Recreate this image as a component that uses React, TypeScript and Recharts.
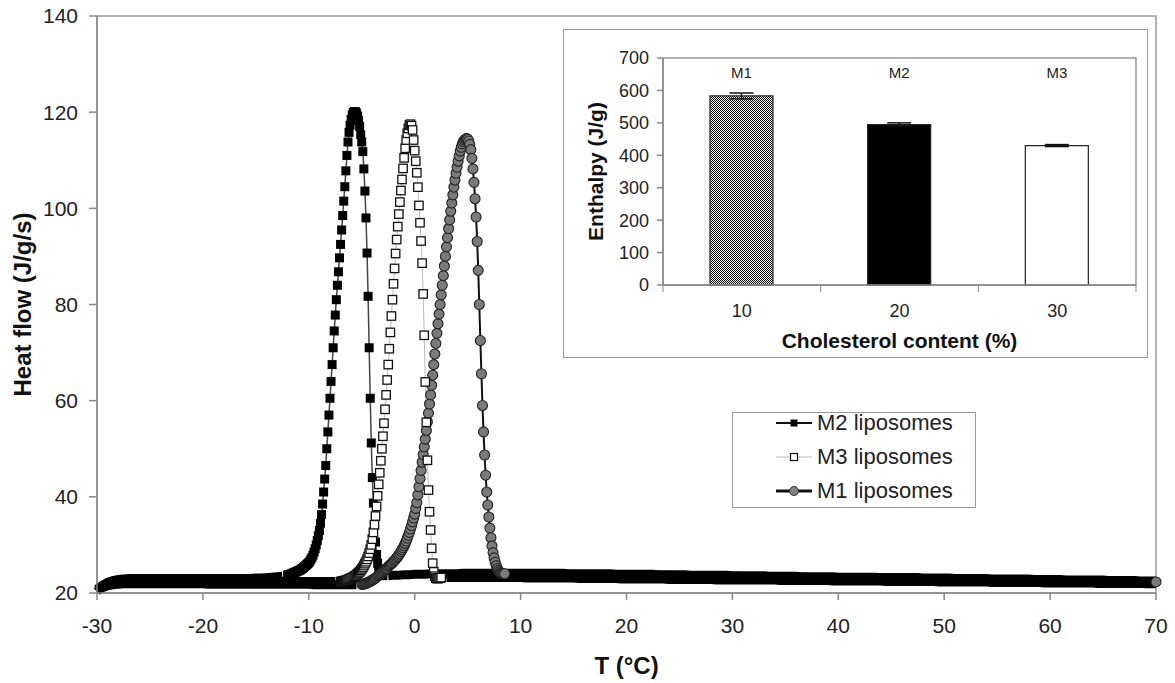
import { LineChart, Line, XAxis, YAxis, ReferenceArea, BarChart, Bar, Cell, ErrorBar, LabelList } from 'recharts';

// DSC scans of the liposomes, heat flow (J/g/s) against temperature (°C).
// Each scan is kept in three parts: baseline before the peak (0.5 °C apart),
// the peak itself (0.1 °C apart) and the baseline after it (0.5 °C apart).

const m2PreStart = -30;
const m2Pre = [
  20.3, 21.5, 22.2, 22.6, 22.8, 22.9, 23.0, 23.0, 23.0, 23.0,
  23.0, 23.0, 23.0, 23.0, 23.0, 23.0, 23.0, 23.0, 23.0, 23.0,
  23.0, 23.0, 23.0, 23.0, 23.0, 23.0, 23.0, 23.0, 23.0, 23.0,
  23.1, 23.1, 23.2, 23.3, 23.4, 23.5,
];
const m2PeakStart = -12;
const m2Peak = [
  23.7, 23.8, 23.8, 23.9, 24.0, 24.1, 24.2, 24.3, 24.4, 24.5,
  24.6, 24.7, 24.8, 25.0, 25.1, 25.3, 25.5, 25.7, 25.9, 26.1,
  26.3, 26.6, 27.0, 27.4, 27.9, 28.5, 29.2, 30.0, 30.9, 31.9,
  33.0, 34.5, 36.3, 38.5, 41.0, 43.7, 46.5, 50.0, 53.5, 57.0,
  60.5, 64.0, 67.5, 71.0, 74.5, 77.8, 81.0, 84.0, 86.8, 89.7,
  92.5, 95.5, 98.5, 101.5, 104.5, 107.8, 111.0, 113.8, 115.8, 117.3,
  118.5, 119.4, 119.9, 120.1, 120.1, 119.8, 119.2, 118.3, 117.0, 115.3,
  113.8, 111.8, 108.2, 103.6, 98.0, 90.7, 81.7, 71.0, 60.5, 51.2,
  44.0, 38.7, 34.2, 30.6, 28.0, 26.2, 25.0, 24.3, 23.9, 23.7,
  23.6,
];
const m2PostStart = -2.5;
const m2Post = [
  23.6, 23.7, 23.7, 23.8, 23.8, 23.9, 23.9, 23.9, 24.0, 24.0,
  24.0, 24.0, 24.0, 24.0, 24.1, 24.1, 24.1, 24.1, 24.1, 24.1,
  24.1, 24.1, 24.1, 24.1, 24.1, 24.1, 24.1, 24.1, 24.1, 24.1,
  24.1, 24.1, 24.1, 24.1, 24.0, 24.0, 24.0, 24.0, 24.0, 24.0,
  24.0, 24.0, 24.0, 23.9, 23.9, 23.9, 23.9, 23.9, 23.9, 23.9,
  23.9, 23.8, 23.8, 23.8, 23.8, 23.8, 23.8, 23.7, 23.7, 23.7,
  23.7, 23.7, 23.7, 23.7, 23.7, 23.6, 23.6, 23.6, 23.6, 23.6,
  23.6, 23.6, 23.5, 23.5, 23.5, 23.5, 23.5, 23.5, 23.4, 23.4,
  23.4, 23.4, 23.4, 23.4, 23.4, 23.3, 23.3, 23.3, 23.3, 23.3,
  23.3, 23.3, 23.3, 23.2, 23.2, 23.2, 23.2, 23.2, 23.2, 23.2,
  23.2, 23.1, 23.1, 23.1, 23.1, 23.1, 23.1, 23.0, 23.0, 23.0,
  23.0, 23.0, 23.0, 23.0, 22.9, 22.9, 22.9, 22.9, 22.9, 22.9,
  22.9, 22.9, 22.8, 22.8, 22.8, 22.8, 22.8, 22.8, 22.7, 22.7,
  22.7, 22.7, 22.7, 22.7, 22.7, 22.7, 22.6, 22.6, 22.6, 22.6,
  22.6, 22.6, 22.5, 22.5, 22.5, 22.5,
];

const m3PreStart = -30;
const m3Pre = [
  20.8, 21.6, 22.0, 22.2, 22.3, 22.4, 22.4, 22.4, 22.4, 22.4,
  22.4, 22.4, 22.4, 22.4, 22.4, 22.4, 22.4, 22.4, 22.4, 22.4,
  22.4, 22.4, 22.4, 22.4, 22.4, 22.4, 22.4, 22.4, 22.4, 22.4,
  22.4, 22.4, 22.4, 22.4, 22.4, 22.4, 22.4, 22.4, 22.4, 22.4,
  22.4, 22.4, 22.4, 22.4, 22.4, 22.4,
];
const m3PeakStart = -7;
const m3Peak = [
  22.4, 22.4, 22.5, 22.5, 22.6, 22.6, 22.7, 22.8, 22.9, 23.0,
  23.1, 23.2, 23.3, 23.5, 23.6, 23.8, 24.0, 24.2, 24.4, 24.7,
  25.0, 25.3, 25.7, 26.1, 26.5, 27.0, 27.6, 28.3, 29.1, 30.0,
  31.2, 32.6, 34.2, 36.0, 38.0, 40.2, 42.6, 45.0, 47.5, 50.0,
  52.6, 55.3, 58.2, 61.2, 64.3, 67.5, 70.8, 74.2, 77.6, 81.0,
  84.3, 87.5, 90.6, 93.5, 96.2, 98.8, 101.3, 103.7, 106.0, 108.3,
  110.5, 112.5, 114.2, 115.6, 116.6, 117.3, 117.5, 117.2, 116.3, 114.2,
  112.0, 109.8, 107.4, 104.4, 100.6, 97.0, 93.2, 88.6, 82.2, 73.6,
  63.9, 55.5, 47.6, 41.4, 36.9, 33.1, 29.3, 26.2, 24.4, 23.5,
  23.1, 23.0, 23.0, 23.1, 23.1, 23.2,
];
const m3PostStart = 3;
const m3Post = [
  23.2, 23.2, 23.2, 23.2, 23.2, 23.2, 23.2, 23.2, 23.2, 23.2,
  23.2, 23.2, 23.2, 23.2, 23.2, 23.1, 23.1, 23.1, 23.1, 23.1,
  23.1, 23.1, 23.1, 23.1, 23.1, 23.0, 23.0, 23.0, 23.0, 23.0,
  23.0, 23.0, 23.0, 22.9, 22.9, 22.9, 22.9, 22.9, 22.9, 22.9,
  22.9, 22.9, 22.8, 22.8, 22.8, 22.8, 22.8, 22.8, 22.8, 22.8,
  22.8, 22.7, 22.7, 22.7, 22.7, 22.7, 22.7, 22.7, 22.7, 22.7,
  22.7, 22.7, 22.7, 22.6, 22.6, 22.6, 22.6, 22.6, 22.6, 22.6,
  22.6, 22.6, 22.6, 22.5, 22.5, 22.5, 22.5, 22.5, 22.5, 22.5,
  22.5, 22.5, 22.5, 22.4, 22.4, 22.4, 22.4, 22.4, 22.4, 22.4,
  22.4, 22.4, 22.4, 22.3, 22.3, 22.3, 22.3, 22.3, 22.3, 22.3,
  22.3, 22.3, 22.3, 22.2, 22.2, 22.2, 22.2, 22.2, 22.2, 22.2,
  22.2, 22.2, 22.2, 22.1, 22.1, 22.1, 22.1, 22.1, 22.1, 22.1,
  22.1, 22.1, 22.1, 22.0, 22.0, 22.0, 22.0, 22.0, 22.0, 22.0,
  22.0, 22.0, 21.9, 21.9, 21.9,
];

const m1PreStart = -30;
const m1Pre = [
  20.5, 21.1, 21.5, 21.7, 21.8, 21.9, 21.9, 21.9, 21.9, 21.9,
  21.9, 21.9, 21.9, 21.9, 21.9, 21.9, 21.9, 21.9, 21.9, 21.9,
  21.9, 21.8, 21.8, 21.8, 21.8, 21.8, 21.8, 21.8, 21.8, 21.8,
  21.8, 21.8, 21.8, 21.8, 21.8, 21.8, 21.8, 21.8, 21.8, 21.8,
  21.8, 21.7, 21.7, 21.7, 21.7, 21.7, 21.7, 21.7, 21.7, 21.7,
];
const m1PeakStart = -5;
const m1Peak = [
  21.8, 21.8, 21.9, 21.9, 22.0, 22.1, 22.2, 22.3, 22.4, 22.6,
  22.7, 22.8, 23.0, 23.1, 23.3, 23.5, 23.6, 23.8, 24.0, 24.2,
  24.4, 24.6, 24.8, 25.0, 25.2, 25.5, 25.7, 25.9, 26.1, 26.3,
  26.6, 26.8, 27.0, 27.3, 27.6, 27.9, 28.2, 28.6, 29.0, 29.4,
  29.8, 30.3, 30.8, 31.4, 32.0, 32.6, 33.3, 34.0, 34.8, 35.6,
  36.4, 37.6, 38.8, 40.4, 42.1, 43.8, 45.5, 47.2, 48.8, 50.4,
  52.0, 53.8, 55.6, 57.4, 59.3, 61.2, 63.2, 65.3, 67.5, 69.7,
  71.9, 74.0, 76.0, 78.0, 80.0, 82.0, 84.0, 86.0, 88.0, 90.0,
  92.0, 93.9, 95.8, 97.6, 99.4, 101.1, 102.8, 104.4, 105.9, 107.3,
  108.6, 109.8, 110.9, 111.9, 112.7, 113.4, 113.9, 114.2, 114.4, 114.5,
  114.4, 114.0, 113.3, 112.2, 110.4, 108.2, 105.4, 102.0, 98.2, 93.1,
  87.1, 80.0, 72.5, 65.6, 59.0, 53.5, 48.7, 44.5, 41.0, 38.3,
  35.8, 33.5, 31.5, 29.8, 28.4, 27.3, 26.4, 25.7, 25.1, 24.7,
  24.4, 24.2, 24.1, 24.0, 24.0, 24.0,
];
const m1PostStart = 9;
const m1Post = [
  23.9, 23.9, 23.9, 23.9, 23.9, 23.9, 23.9, 23.9, 23.9, 23.9,
  23.9, 23.9, 23.9, 23.8, 23.8, 23.8, 23.8, 23.8, 23.8, 23.8,
  23.8, 23.8, 23.8, 23.7, 23.7, 23.7, 23.7, 23.7, 23.7, 23.7,
  23.7, 23.6, 23.6, 23.6, 23.6, 23.6, 23.5, 23.5, 23.5, 23.5,
  23.5, 23.5, 23.5, 23.5, 23.4, 23.4, 23.4, 23.4, 23.4, 23.4,
  23.4, 23.3, 23.3, 23.3, 23.3, 23.3, 23.3, 23.2, 23.2, 23.2,
  23.2, 23.2, 23.2, 23.2, 23.2, 23.1, 23.1, 23.1, 23.1, 23.1,
  23.1, 23.0, 23.0, 23.0, 23.0, 23.0, 23.0, 22.9, 22.9, 22.9,
  22.9, 22.9, 22.9, 22.9, 22.9, 22.8, 22.8, 22.8, 22.8, 22.8,
  22.8, 22.8, 22.8, 22.7, 22.7, 22.7, 22.7, 22.7, 22.7, 22.7,
  22.7, 22.6, 22.6, 22.6, 22.6, 22.6, 22.6, 22.5, 22.5, 22.5,
  22.5, 22.5, 22.5, 22.5, 22.4, 22.4, 22.4, 22.4, 22.4, 22.4,
  22.4, 22.3, 22.3,
];

const xTicks = [-30, -20, -10, 0, 10, 20, 30, 40, 50, 60, 70];
const yTicks = [20, 40, 60, 80, 100, 120, 140];

// inset: enthalpy per formulation
const cholesterol = ['10', '20', '30'];
const formulations = ['M1', 'M2', 'M3'];
const enthalpy = [583, 495, 430];
const enthalpyErr = [9, 5, 3];
const enthalpyTicks = [0, 100, 200, 300, 400, 500, 600, 700];

function toPoints(start: number, step: number, values: number[]) {
  return values.map((v, i) => ({ t: Math.round((start + i * step) * 10) / 10, v }));
}

const m2PreData = toPoints(m2PreStart, 0.5, m2Pre);
const m2PeakData = toPoints(m2PeakStart, 0.1, m2Peak);
const m2PostData = toPoints(m2PostStart, 0.5, m2Post);
const m3PreData = toPoints(m3PreStart, 0.5, m3Pre);
const m3PeakData = toPoints(m3PeakStart, 0.1, m3Peak);
const m3PostData = toPoints(m3PostStart, 0.5, m3Post);
const m1PreData = toPoints(m1PreStart, 0.5, m1Pre);
const m1PeakData = toPoints(m1PeakStart, 0.1, m1Peak);
const m1PostData = toPoints(m1PostStart, 0.5, m1Post);

const barData = cholesterol.map((c, i) => ({
  cat: c,
  name: formulations[i],
  value: enthalpy[i],
  err: enthalpyErr[i],
}));

const FONT = '"Liberation Sans", Arial, Helvetica, sans-serif';
const barFills = ['url(#m1Dots)', '#000', '#fff'];

const m2Dot = (p: any) => (
  <rect key={`m2-${p.index}`} x={p.cx - 4.5} y={p.cy - 4.5} width={9} height={9} fill="#000" />
);
const m3Dot = (p: any) => (
  <rect key={`m3-${p.index}`} x={p.cx - 4.2} y={p.cy - 4.2} width={8.4} height={8.4} fill="#fff" stroke="#111" strokeWidth={1.3} />
);
const m1Dot = (p: any) => (
  <circle key={`m1-${p.index}`} cx={p.cx} cy={p.cy} r={5} fill="#7a7a7a" stroke="#222" strokeWidth={1.1} />
);
// only the last reading of the M1 baseline shows as a marker at the right edge
const m1EndDot = (p: any) =>
  p.index === m1Post.length - 1 ? (
    <circle key="m1-end" cx={p.cx} cy={p.cy} r={5} fill="#7a7a7a" stroke="#222" strokeWidth={1.1} />
  ) : (
    <g key={`m1e-${p.index}`} />
  );

const INSET_W = 583;
const INSET_H = 327;
const INSET_YAXIS_W = 99;
const insetMargin = { top: 28, right: 11, bottom: 0, left: 0 };
const bandW = (INSET_W - insetMargin.right - INSET_YAXIS_W) / cholesterol.length;

function InsetTick(props: any) {
  const { x, y, payload, index } = props;
  const axisY = y - 19;
  return (
    <g>
      <line x1={x - bandW / 2} x2={x - bandW / 2} y1={axisY} y2={axisY + 7} stroke="#888" />
      {index === cholesterol.length - 1 && (
        <line x1={x + bandW / 2} x2={x + bandW / 2} y1={axisY} y2={axisY + 7} stroke="#888" />
      )}
      <text x={x} y={y} dy="0.71em" textAnchor="middle" fontSize={18} fill="#222">
        {payload.value}
      </text>
    </g>
  );
}

// formulation names sit at the same height (about 655 J/g) above every bar
const renderName = (props: any) => {
  const { x, y, width, height, value, index } = props;
  const perUnit = height / enthalpy[index];
  const ly = y + height - 655 * perUnit;
  return (
    <text key={`n-${index}`} x={x + width / 2} y={ly} textAnchor="middle" dominantBaseline="central" fontSize={15} fill="#222">
      {value}
    </text>
  );
};

function LegendRow({ top, label, children }: { top: number; label: string; children: any }) {
  return (
    <div style={{ position: 'absolute', left: 0, top, height: 24, width: '100%' }}>
      <svg width={36} height={24} style={{ position: 'absolute', left: 43, top: 0 }}>
        {children}
      </svg>
      <span style={{ position: 'absolute', left: 84, top: 0, lineHeight: '24px', fontSize: 22, color: '#222', whiteSpace: 'nowrap' }}>
        {label}
      </span>
    </div>
  );
}

// the baselines are sampled so densely in the original that the markers melt into a black band
const baseline = (data: { t: number; v: number }[], key: string, dot: any = false) => (
  <Line key={key} data={data} dataKey="v" type="linear" stroke="#000" strokeWidth={9} dot={dot} activeDot={false} isAnimationActive={false} />
);

export default function App() {
  return (
    <div style={{ position: 'absolute', left: 0, top: 0, width: 1175, height: 683, background: '#fff', fontFamily: FONT }}>
      <LineChart width={1175} height={683} margin={{ top: 16, right: 19, bottom: 0, left: 0 }}>
        <ReferenceArea y1={20} y2={140} fill="none" stroke="#999" strokeWidth={1.5} />
        <XAxis
          type="number"
          dataKey="t"
          domain={[-30, 70]}
          ticks={xTicks}
          height={90}
          stroke="#888"
          strokeWidth={1.5}
          tickSize={7}
          tickMargin={18}
          tick={{ fontSize: 21, fill: '#222' }}
          label={{ value: 'T (°C)', position: 'center', dy: 27, fontSize: 24, fontWeight: 700, fill: '#111' }}
        />
        <YAxis
          type="number"
          dataKey="v"
          domain={[20, 140]}
          ticks={yTicks}
          width={97}
          stroke="#888"
          strokeWidth={1.5}
          tickSize={8}
          tickMargin={11}
          tick={{ fontSize: 21, fill: '#222' }}
          label={{ value: 'Heat flow (J/g/s)', angle: -90, position: 'center', dx: -26, fontSize: 24, fontWeight: 700, fill: '#111' }}
        />
        {baseline(m2PreData, 'b1')}
        {baseline(m3PreData, 'b2')}
        {baseline(m1PreData, 'b3')}
        {baseline(m2PostData, 'b4')}
        {baseline(m3PostData, 'b5')}
        {baseline(m1PostData, 'b6', m1EndDot)}
        <Line data={m2PeakData} dataKey="v" type="linear" stroke="#444" strokeWidth={1.5} dot={m2Dot} activeDot={false} isAnimationActive={false} />
        <Line data={m1PeakData} dataKey="v" type="linear" stroke="#111" strokeWidth={2} dot={m1Dot} activeDot={false} isAnimationActive={false} />
        <Line data={m3PeakData} dataKey="v" type="linear" stroke="#bbb" strokeWidth={1} dot={m3Dot} activeDot={false} isAnimationActive={false} />
      </LineChart>

      <div style={{ position: 'absolute', left: 732, top: 412, width: 242, height: 94, border: '1px solid #999', background: '#fff' }}>
        <LegendRow top={-2} label="M2 liposomes">
          <line x1={0} x2={36} y1={12} y2={12} stroke="#111" strokeWidth={2} />
          <rect x={14.5} y={8.5} width={7} height={7} fill="#000" />
        </LegendRow>
        <LegendRow top={32} label="M3 liposomes">
          <line x1={0} x2={36} y1={12} y2={12} stroke="#bbb" strokeWidth={1.2} />
          <rect x={14.5} y={8.5} width={7} height={7} fill="#fff" stroke="#111" strokeWidth={1.2} />
        </LegendRow>
        <LegendRow top={66} label="M1 liposomes">
          <line x1={0} x2={36} y1={12} y2={12} stroke="#111" strokeWidth={3} />
          <circle cx={18} cy={12} r={4.5} fill="#808080" stroke="#333" />
        </LegendRow>
      </div>

      <div style={{ position: 'absolute', left: 563, top: 29, width: INSET_W, height: INSET_H, border: '1px solid #999', background: '#fff' }}>
        <BarChart width={INSET_W} height={INSET_H} data={barData} margin={insetMargin}>
          <defs>
            <pattern id="m1Dots" width={2} height={2} patternUnits="userSpaceOnUse">
              <rect width={2} height={2} fill="#fff" />
              <rect width={1} height={1} fill="#000" />
              <rect x={1} y={1} width={1} height={1} fill="#000" />
            </pattern>
          </defs>
          <ReferenceArea y1={0} y2={700} fill="none" stroke="#999" strokeWidth={1.5} />
          <XAxis
            dataKey="cat"
            height={72}
            stroke="#888"
            strokeWidth={1.5}
            tickSize={7}
            tickMargin={12}
            tickLine={false}
            tick={<InsetTick />}
            label={{ value: 'Cholesterol content (%)', position: 'center', dy: 20, fontSize: 21, fontWeight: 700, fill: '#111' }}
          />
          <YAxis
            domain={[0, 700]}
            ticks={enthalpyTicks}
            width={INSET_YAXIS_W}
            stroke="#888"
            strokeWidth={1.5}
            tickSize={6}
            tickMargin={8}
            tick={{ fontSize: 18, fill: '#222' }}
            label={{ value: 'Enthalpy (J/g)', angle: -90, position: 'center', dx: -18, fontSize: 21, fontWeight: 700, fill: '#111' }}
          />
          <Bar dataKey="value" barSize={63} isAnimationActive={false} stroke="#222" strokeWidth={1.2}>
            {barData.map((d, i) => (
              <Cell key={d.cat} fill={barFills[i]} />
            ))}
            <ErrorBar dataKey="err" width={12} strokeWidth={1.5} stroke="#111" direction="y" />
            <LabelList dataKey="name" content={renderName} />
          </Bar>
        </BarChart>
      </div>
    </div>
  );
}
